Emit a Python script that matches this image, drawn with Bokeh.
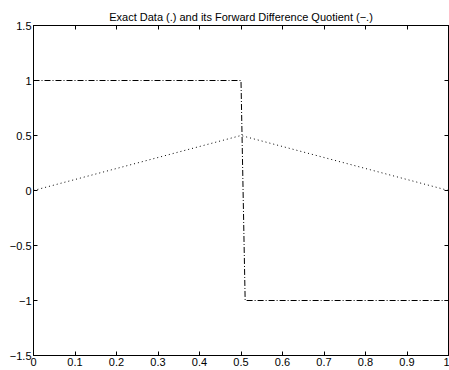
from bokeh.plotting import figure
from bokeh.models import LinearAxis, Range1d, FixedTicker
from bokeh.embed import file_html
from bokeh.resources import INLINE

# Data
exact_x = [0.0, 0.5, 1.0]
exact_y = [0.0, 0.5, 0.0]
quot_x = [0.0, 0.5, 0.51, 1.0]
quot_y = [1.0, 1.0, -1.0, -1.0]

x_ticks = [0, 0.1, 0.2, 0.3, 0.4, 0.5, 0.6, 0.7, 0.8, 0.9, 1]
x_labels = ["0", "0.1", "0.2", "0.3", "0.4", "0.5", "0.6", "0.7", "0.8", "0.9", "1"]
y_ticks = [-1.5, -1, -0.5, 0, 0.5, 1, 1.5]
y_labels = ["\u22121.5", "\u22121", "\u22120.5", "0", "0.5", "1", "1.5"]

FONT = "Liberation Sans"

p = figure(width=449, height=370, output_backend="svg", toolbar_location=None,
           x_range=Range1d(0, 1), y_range=Range1d(-1.5, 1.5),
           title="Exact Data (.) and its Forward Difference Quotient (\u2212.)",
           min_border_left=33, min_border_right=1, min_border_top=25, min_border_bottom=15,
           x_axis_location=None, y_axis_location=None)
p.background_fill_color = "white"
p.border_fill_color = "white"
p.outline_line_color = "black"
p.outline_line_width = 1
p.xgrid.visible = False
p.ygrid.visible = False
p.title.text_font = FONT
p.title.text_font_size = "11px"
p.title.text_font_style = "normal"
p.title.align = "center"
p.title.text_color = "black"
p.title.standoff = 6

def style(ax, ticks, labels, show):
    ax.ticker = FixedTicker(ticks=ticks)
    ax.axis_line_color = "black"
    ax.major_tick_line_color = "black"
    ax.major_tick_in = 4
    ax.major_tick_out = 0
    ax.minor_tick_line_color = None
    ax.major_label_text_font = FONT
    ax.major_label_text_font_size = "11px"
    ax.major_label_text_color = "black"
    if show:
        ax.major_label_overrides = {t: l for t, l in zip(ticks, labels)}
        ax.major_label_standoff = 2
    else:
        ax.major_label_overrides = {t: "" for t in ticks}
        ax.major_label_standoff = 0

bottom = LinearAxis(); style(bottom, x_ticks, x_labels, True); p.add_layout(bottom, "below")
left = LinearAxis(); style(left, y_ticks, y_labels, True); p.add_layout(left, "left")
top = LinearAxis(); style(top, x_ticks, x_labels, False); p.add_layout(top, "above")
right = LinearAxis(); style(right, y_ticks, y_labels, False); p.add_layout(right, "right")

p.line(exact_x, exact_y, line_color="black", line_width=1, line_dash="1 3")
p.line(quot_x, quot_y, line_color="black", line_width=1, line_dash="6 2 1 2")

open("out.html", "w").write(file_html(p, INLINE))
